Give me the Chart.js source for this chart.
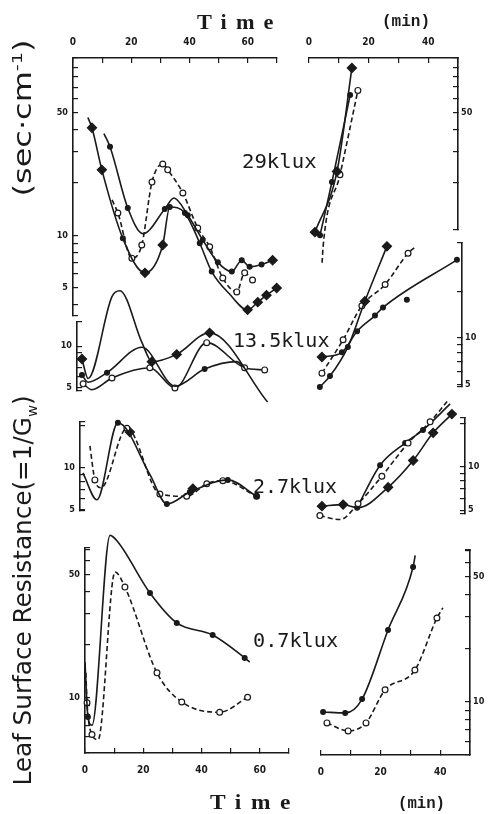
<!DOCTYPE html>
<html>
<head>
<meta charset="utf-8">
<script src="https://cdn.jsdelivr.net/npm/chart.js@4.4.1/dist/chart.umd.min.js"></script>
<style>
  body { margin: 0; background: #fff; }
  #fig { position: relative; width: 488px; height: 814px; overflow: hidden; background: #fff; }
  #fig canvas { position: absolute; left: 0; top: 0; }
  .txt { position: absolute; white-space: nowrap; color: #1a1a1a; line-height: 1; }
</style>
</head>
<body>
<div id="fig"></div>
<script>
// time (min) / leaf surface resistance (sec/cm)
// left column = first run (0-70 min), right column = second run (0-50 min)

// 29 klux
const k29L_a = [[5.1,47],[6.5,41],[9.9,23.6],[17.1,9.6],[24.7,6.1],[30.8,8.8],[33.2,14.5],[38.4,13.4],[43.5,9.0],[47.6,6.2],[53.8,4.6],[59.9,3.75],[63.4,4.15],[66.4,4.55],[69.9,5.0]];
const k29L_b = [[10.6,38],[12.7,32],[18.8,14.3],[24.0,10.2],[31.5,14.1],[34.6,16.3],[39.4,13.0],[44.5,9.4],[49.7,7.0],[54.5,6.2],[57.9,7.2],[60.6,6.6],[64.7,6.8],[68.5,7.2]];
const k29L_c = [[13.4,15.9],[15.4,13.4],[20.2,7.4],[23.6,8.8],[27.1,20.1],[30.8,25.5],[32.5,23.6],[37.7,17.4],[42.8,11.0],[46.9,8.6],[51.4,5.7],[56.2,4.75],[58.9,6.1],[61.6,5.55]];
const k29R_a = [[2.0,10.4],[9.4,23.1],[14.4,90]];
const k29R_b = [[3.7,10.0],[7.7,20.1],[13.8,63]];
const k29R_c = [[4.4,6.95],[4.7,8.5],[10.4,22.1],[16.4,67]];

// 13.5 klux
const k135L_a = [[1.7,8.05],[3.8,5.8],[12.0,23],[14.7,25.4],[22.3,10.6],[25.7,7.7],[34.2,8.7],[45.5,12.5],[65.4,3.9]];
const k135L_b = [[1.7,6.15],[3.8,5.45],[10.3,6.4],[22.3,9.8],[33.6,5.1],[43.8,6.8],[54.8,7.7],[57.5,6.95]];
const k135L_c = [[2.1,5.3],[5.1,4.8],[12.0,5.85],[25.0,6.95],[33.6,4.95],[44.5,10.6],[57.5,6.95],[64.4,6.7]];
const k135R_a = [[2.3,4.8],[5.7,5.65],[11.7,8.7],[17.4,17.2],[24.8,39]];
const k135R_b = [[3.0,5.9],[10.1,9.7],[16.4,16.1],[24.2,22.1],[31.9,35.2],[34.2,38.5]];
const k135R_c = [[3.0,7.5],[9.7,8.05],[14.8,11.0],[20.8,13.9],[23.5,15.7],[48.3,31.9]];
const k135R_d = [[31.5,17.6]];

// 2.7 klux
const k27L_a = [[1.0,9.2],[5.8,5.9],[13.0,21.1],[24.0,8.95],[29.8,5.5],[37.7,6.7],[50.7,8.2],[60.6,6.25]];
const k27L_b = [[3.4,14.4],[5.1,8.2],[7.2,7.2],[16.1,19.3],[27.4,6.5],[36.6,6.25],[43.5,7.7],[49.0,8.1],[60.6,6.25]];
const k27L_c = [[17.1,18.1],[38.7,7.1]];
const k27R_a = [[2.0,5.33],[9.1,5.46],[14.1,5.2],[24.2,7.2],[32.6,11.05],[39.3,17.2],[45.6,23.2]];
const k27R_b = [[1.3,4.58],[8.1,4.3],[14.1,5.53],[22.1,8.6],[30.9,14.6],[38.3,20.5],[44.0,28.4]];
const k27R_c = [[13.8,5.2],[21.5,10.25],[29.9,14.6],[35.9,18.0],[45.0,27.3]];

// 0.7 klux
const k07L_a = [[0,16],[1.0,7.8],[2.4,7.0],[8.6,84],[11.3,77],[22.3,39.5],[31.5,26.7],[43.8,22.8],[54.8,16.9],[56.5,16]];
const k07L_b = [[0.3,13.9],[0.7,9.4],[2.4,6.2],[4.5,5.8],[10.3,52],[13.7,42.7],[24.7,13.9],[33.2,9.5],[46.2,8.3],[55.8,10.1]];
const k07R_a = [[0.7,8.8],[8.1,8.7],[13.8,10.4],[22.5,25.3],[30.9,56.9],[31.6,66]];
const k07R_b = [[2.0,7.65],[9.1,6.9],[15.1,7.65],[21.5,11.7],[31.5,15.1],[38.9,29.5],[40.9,33.6]];

// axis ticks
const timeLabelsL = [0, 20, 40, 60];
const timeLabelsR = [0, 20, 40];
const lux = ['29klux', '13.5klux', '2.7klux', '0.7klux'];

const W = 488, H = 814;
const YW = 24, XH = 26;   // room kept for tick labels
const INK = '#1a1a1a';
const fig = document.getElementById('fig');
const tickFont = { family: "'Liberation Sans Narrow', 'DejaVu Sans Condensed', sans-serif", weight: 'bold', size: 9 };

// marker codes: D big filled, d small filled, o open, - none
const MARK = {
  D: { style: 'rectRot', r: 4.6, fill: INK },
  d: { style: 'circle', r: 2.4, fill: INK },
  o: { style: 'circle', r: 2.9, fill: '#fff' },
  '-': { style: 'circle', r: 0, fill: INK }
};

const panels = [
  { area: [73, 58, 277, 316], xmax: 70, side: 'left', xaxis: 'top', xlabels: timeLabelsL,
    y: [3.46, 102.6], yticks: [4,5,6,7,8,9,10,20,30,40,50,60,70,80,90], ylabels: [50,10,5],
    series: [ { data: k29L_a, marks: '-DDdDDdddd-DDDD' }, { data: k29L_b, marks: '-dd-d-dddddddD' }, { data: k29L_c, marks: '-ooooooooooooo', dash: true } ] },
  { area: [309, 58, 458, 230], xmax: 50, side: 'right', xaxis: 'top', xlabels: timeLabelsR,
    y: [10.7, 102.6], yticks: [20,30,40,50,60,70,80,90], ylabels: [50],
    series: [ { data: k29R_a, marks: 'DDD' }, { data: k29R_b, marks: 'ddd' }, { data: k29R_c, marks: '-doo', dash: true } ] },
  { area: [77, 322, 281, 417], xmax: 70, side: 'left',
    y: [4.7, 15], yticks: [5,6,7,8,9,10], ylabels: [10,5],
    series: [ { data: k135L_a, marks: 'D-D--DDDD' }, { data: k135L_b, marks: 'd-d--d--' }, { data: k135L_c, marks: 'o-oooooo' } ] },
  { area: [313, 243, 462, 413], xmax: 50, side: 'right',
    y: [4.8, 41], yticks: [5,6,7,8,9,10,20], ylabels: [10,5],
    series: [ { data: k135R_a, marks: 'dddDD' }, { data: k135R_b, marks: 'ooooo-', dash: true }, { data: k135R_c, marks: 'Dddddd' }, { data: k135R_d, marks: 'd', line: false } ] },
  { area: [80, 422, 284, 537], xmax: 70, side: 'left',
    y: [4.9, 21.4], yticks: [5,6,7,8,9,10,20], ylabels: [10,5],
    series: [ { data: k27L_a, marks: '--d-dddd' }, { data: k27L_b, marks: '-o-oooooo', dash: true }, { data: k27L_c, marks: 'DD', line: false } ] },
  { area: [316, 418, 465, 540], xmax: 50, side: 'right',
    y: [4.7, 21.8], yticks: [5,6,7,8,9,10,20], ylabels: [10,5],
    series: [ { data: k27R_a, marks: 'DD-DDDD' }, { data: k27R_b, marks: 'oooooo-', dash: true }, { data: k27R_c, marks: 'ddddd' } ] },
  { area: [85, 548, 289, 753], xmax: 70, side: 'left', xaxis: 'bottom', xlabels: timeLabelsL,
    y: [4.87, 71.2], yticks: [6,7,8,9,10,20,30,40,50,60,70], ylabels: [50,10],
    series: [ { data: k07L_a, marks: '-d--ddddd-' }, { data: k07L_b, marks: '-oo--ooooo', dash: true } ] },
  { area: [321, 550, 470, 755], xmax: 50, side: 'right', xaxis: 'bottom', xlabels: timeLabelsR,
    y: [5.06, 70.8], yticks: [6,7,8,9,10,20,30,40,50,60,70], ylabels: [50,10],
    series: [ { data: k07R_a, marks: 'ddddd-' }, { data: k07R_b, marks: 'oooooo-', dash: true } ] }
];

function makePanel(p) {
  const cv = document.createElement('canvas');
  cv.width = W; cv.height = H;
  fig.appendChild(cv);
  const [L, T, R, B] = p.area;
  const datasets = p.series.map(s => {
    const m = s.marks.split('').map(c => MARK[c]);
    return {
      data: s.data.map(([x, y]) => ({ x, y })),
      showLine: s.line !== false,
      borderColor: INK, borderWidth: 1.6,
      borderDash: s.dash ? [5, 3] : [],
      cubicInterpolationMode: 'monotone',
      clip: false,
      pointStyle: m.map(k => k.style),
      pointRadius: m.map(k => k.r),
      pointBackgroundColor: m.map(k => k.fill),
      pointBorderColor: INK, pointBorderWidth: 1.2
    };
  });
  const axisGrid = { drawOnChartArea: false, drawTicks: true, tickLength: -5, color: INK, lineWidth: 1.2 };
  const pad = {
    left: p.side === 'left' ? L - YW : L,
    right: p.side === 'right' ? W - R - YW : W - R,
    top: p.xaxis === 'top' ? T - XH : T,
    bottom: p.xaxis === 'bottom' ? H - B - XH : H - B
  };
  new Chart(cv, {
    type: 'scatter',
    data: { datasets },
    options: {
      responsive: false, animation: false, devicePixelRatio: 1,
      layout: { padding: pad },
      plugins: { legend: { display: false }, tooltip: { enabled: false } },
      events: [],
      scales: {
        x: {
          type: 'linear', min: 0, max: p.xmax,
          display: !!p.xaxis, position: p.xaxis || 'bottom',
          afterFit: s => { s.height = XH; },
          border: { display: true, color: INK, width: 1.6 },
          grid: axisGrid,
          ticks: {
            stepSize: 10, autoSkip: false, maxRotation: 0, padding: p.xaxis === 'top' ? 15 : 16,
            color: INK, font: Object.assign({}, tickFont, { size: 10 }),
            callback: v => (p.xlabels && p.xlabels.includes(v)) ? String(v) : ''
          }
        },
        y: {
          type: 'logarithmic', min: p.y[0], max: p.y[1], position: p.side,
          afterFit: s => { s.width = YW; },
          afterBuildTicks: s => { s.ticks = [p.y[0], ...p.yticks, p.y[1]].map(v => ({ value: v })); },
          border: { display: true, color: INK, width: 1.6 },
          grid: axisGrid,
          ticks: {
            autoSkip: false, padding: p.side === 'left' ? 10 : 8,
            color: INK, font: tickFont,
            callback: v => p.ylabels.includes(v) ? String(v) : ''
          }
        }
      }
    }
  });
}
panels.forEach(makePanel);

// texts
function putText(html, o) {
  const el = document.createElement('div');
  el.className = 'txt';
  el.innerHTML = html;
  el.style.font = o.font;
  if (o.ls) el.style.letterSpacing = o.ls + 'px';
  fig.appendChild(el);
  const w = el.offsetWidth - (o.ls || 0), h = el.offsetHeight;
  const k = o.len / w;
  el.style.top = (o.y - h / 2) + 'px';
  if (o.rot) {
    el.style.left = (o.x - el.offsetWidth / 2) + 'px';
    el.style.transform = 'rotate(-90deg) scaleX(' + k + ')';
  } else {
    el.style.left = o.x + 'px';
    el.style.transformOrigin = '0 50%';
    el.style.transform = 'scaleX(' + k + ')';
  }
}

const monoFont = "19px 'DejaVu Sans Mono', monospace";
putText(lux[0], { x: 242, y: 161, len: 75, font: monoFont });
putText(lux[1], { x: 233, y: 340, len: 97, font: monoFont });
putText(lux[2], { x: 253, y: 486, len: 84, font: monoFont });
putText(lux[3], { x: 253, y: 640, len: 85, font: monoFont });

const timeFont = "bold 22px 'Liberation Serif', serif";
const minFont = "bold 16px 'Liberation Mono', monospace";
putText('Time', { x: 197, y: 22, len: 76, font: timeFont, ls: 9 });
putText('(min)', { x: 382, y: 22, len: 48, font: minFont });
putText('Time', { x: 210, y: 802, len: 80, font: timeFont, ls: 9 });
putText('(min)', { x: 398, y: 804, len: 47, font: minFont });

const titleFont = "24px 'DejaVu Sans Condensed', 'Liberation Sans Narrow', sans-serif";
putText('Leaf Surface Resistance(=1/G<sub style="font-size:0.6em">w</sub>)', { x: 24, y: 590, len: 390, font: titleFont, rot: true });
putText('(sec·cm<sup style="font-size:0.6em">-1</sup>)', { x: 23, y: 118, len: 157, font: titleFont, rot: true });
</script>
</body>
</html>
